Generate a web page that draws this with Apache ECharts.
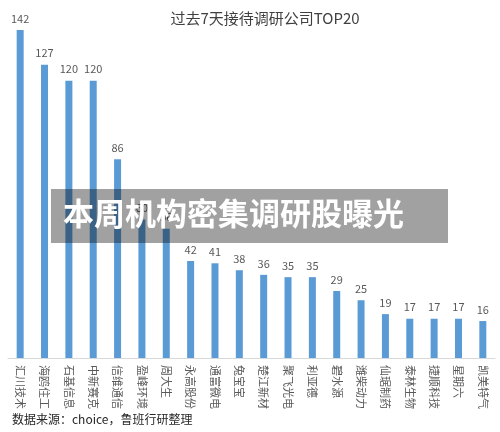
<!DOCTYPE html>
<html>
<head>
<meta charset="utf-8">
<script src="https://cdn.jsdelivr.net/npm/echarts@6/dist/echarts.min.js"></script>
<style>
  html, body { margin: 0; padding: 0; background: #fff; }
  #chart { width: 500px; height: 432px; }
</style>
</head>
<body>
<div id="chart"></div>
<script>
// 公司名称 (类目轴)
const companies = [
  '汇川技术', '海鸥住工', '石基信息', '中新赛克', '信维通信',
  '盈峰环境', '周大生', '永高股份', '通富微电', '兔宝宝',
  '楚江新材', '聚飞光电', '利亚德', '碧水源', '潍柴动力',
  '仙琚制药', '泰林生物', '捷顺科技', '星期六', '凯美特气'
]
// 过去7天接待调研次数; 盈峰环境/周大生 被横幅遮住, 按柱高估计
const visits = [142, 127, 120, 120, 86, 60, 56, 42, 41, 38, 36, 35, 35, 29, 25, 19, 17, 17, 17, 16]

const FONT = '"Noto Sans CJK SC", "Noto Sans", sans-serif'

const chart = echarts.init(document.getElementById('chart'))

chart.setOption({
  animation: false,
  title: {
    text: '过去7天接待调研公司TOP20',
    left: 260,
    textAlign: 'center',
    top: 6,
    textStyle: { fontFamily: FONT, fontSize: 15, fontWeight: 'normal', color: '#404040' }
  },
  grid: { left: 8, right: 5, top: 11.5, bottom: 74 },
  xAxis: {
    type: 'category',
    data: companies,
    axisLine: { lineStyle: { color: '#d9d9d9' } },
    axisTick: { show: false },
    axisLabel: {
      rotate: -90,
      interval: 0,
      margin: 7,
      fontFamily: FONT,
      fontSize: 11,
      color: '#595959'
    }
  },
  yAxis: {
    type: 'value',
    min: 0,
    max: 150,
    show: false,
    splitLine: { show: false }
  },
  series: [{
    type: 'bar',
    data: visits,
    barWidth: 7,
    itemStyle: { color: '#5b9bd5' },
    label: {
      show: true,
      position: 'top',
      distance: 6,
      fontFamily: FONT,
      fontSize: 11,
      color: '#595959'
    }
  }],
  graphic: [
    {
      type: 'rect',
      shape: { x: 51, y: 189, width: 397, height: 54 },
      style: { fill: 'rgba(0,0,0,0.37)' },
      z: 100
    },
    {
      type: 'text',
      left: 63,
      top: 198,
      style: {
        text: '本周机构密集调研股曝光',
        fill: '#ffffff',
        font: 'bold 31px "Noto Sans CJK SC", sans-serif'
      },
      z: 101
    },
    {
      type: 'text',
      left: 12,
      top: 413,
      style: {
        text: '数据来源：choice，鲁班行研整理',
        fill: '#262626',
        font: '12px "Noto Sans CJK SC", sans-serif'
      }
    }
  ]
})
</script>
</body>
</html>
